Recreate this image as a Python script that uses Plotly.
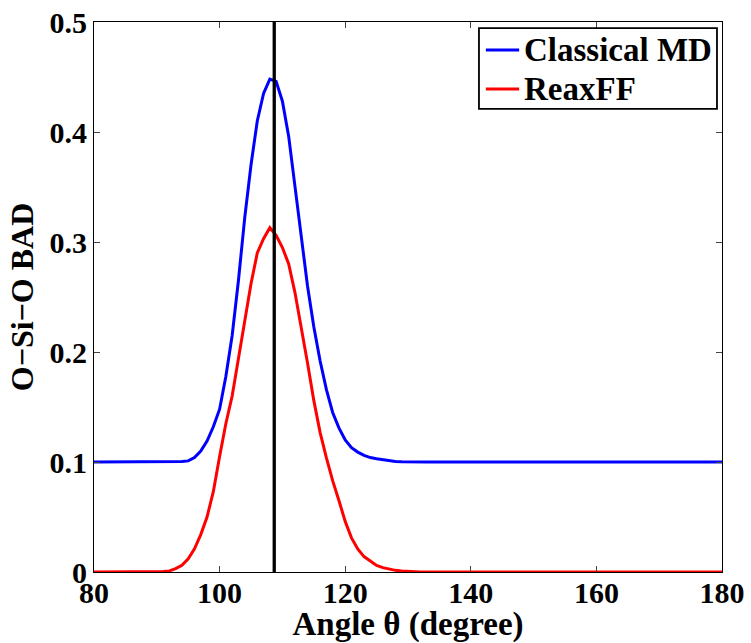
import plotly.graph_objects as go

angle = list(range(80, 181))

classical_peak = {
    93: 0.1002, 94: 0.1005, 95: 0.101, 96: 0.104, 97: 0.110, 98: 0.119, 99: 0.132,
    100: 0.148, 101: 0.178, 102: 0.215, 103: 0.265, 104: 0.322, 105: 0.370,
    106: 0.410, 107: 0.435, 108: 0.448, 109: 0.446, 110: 0.428, 111: 0.396,
    112: 0.352, 113: 0.304, 114: 0.260, 115: 0.223, 116: 0.192, 117: 0.166,
    118: 0.145, 119: 0.131, 120: 0.120, 121: 0.113, 122: 0.109, 123: 0.106,
    124: 0.104, 125: 0.103, 126: 0.102, 127: 0.101, 128: 0.1005, 129: 0.1002,
}
reaxff_peak = {
    90: 0.0002, 91: 0.0005, 92: 0.001, 93: 0.003, 94: 0.006, 95: 0.012, 96: 0.021,
    97: 0.034, 98: 0.050, 99: 0.073, 100: 0.105, 101: 0.135, 102: 0.160,
    103: 0.195, 104: 0.228, 105: 0.262, 106: 0.290, 107: 0.303, 108: 0.313,
    109: 0.306, 110: 0.295, 111: 0.280, 112: 0.254, 113: 0.223, 114: 0.190,
    115: 0.156, 116: 0.127, 117: 0.104, 118: 0.083, 119: 0.065, 120: 0.046,
    121: 0.031, 122: 0.021, 123: 0.014, 124: 0.010, 125: 0.006, 126: 0.004,
    127: 0.0025, 128: 0.0015, 129: 0.001, 130: 0.0005, 131: 0.0002,
}
classical_md = [classical_peak.get(a, 0.1) for a in angle]
reaxff = [reaxff_peak.get(a, 0.0) for a in angle]

ref_angle = 108.7
ref_span = [-0.004, 0.504]

x_ticks = [80, 100, 120, 140, 160, 180]
y_ticks = [0, 0.1, 0.2, 0.3, 0.4, 0.5]
y_tick_text = ["0", "0.1", "0.2", "0.3", "0.4", "0.5"]

series_names = ["Classical MD", "ReaxFF"]
series_colors = ["#0000FF", "#FF0000"]

font_family = "Liberation Serif, Times New Roman, Times, serif"

fig = go.Figure()
for name, ys, color in zip(series_names, [classical_md, reaxff], series_colors):
    fig.add_trace(go.Scatter(x=angle, y=ys, mode="lines", name=name,
                             line=dict(color=color, width=3), cliponaxis=False,
                             showlegend=False))
fig.add_trace(go.Scatter(x=[ref_angle, ref_angle], y=ref_span, mode="lines",
                         line=dict(color="black", width=3.3), showlegend=False,
                         cliponaxis=False))

# legend drawn as box + sample lines + text (paper coordinates)
legend_box = dict(x0=0.613, x1=0.992, y0=0.842, y1=0.989)
legend_rows_y = [0.949, 0.878]
shapes = [dict(type="rect", xref="paper", yref="paper", **legend_box,
               line=dict(color="black", width=1.8), fillcolor="white", layer="above")]
annotations = []
for name, color, yy in zip(series_names, series_colors, legend_rows_y):
    shapes.append(dict(type="line", xref="paper", yref="paper",
                       x0=0.624, x1=0.677, y0=yy, y1=yy,
                       line=dict(color=color, width=3), layer="above"))
    annotations.append(dict(text=name, xref="paper", yref="paper", x=0.682, y=yy,
                            xanchor="left", yanchor="middle", showarrow=False,
                            font=dict(family=font_family, size=33, color="black",
                                      weight="bold")))

axis_common = dict(
    showgrid=False, zeroline=False, showline=True, linecolor="black", linewidth=1,
    mirror="ticks", ticks="inside", ticklen=6, tickcolor="#444", tickwidth=1,
    automargin=False,
    tickfont=dict(family=font_family, size=30, color="black", weight="bold"),
)

fig.update_layout(
    width=751, height=643,
    margin=dict(l=94, r=29, t=22, b=71),
    paper_bgcolor="white", plot_bgcolor="white",
    showlegend=False,
    shapes=shapes,
    annotations=annotations,
    xaxis=dict(
        range=[80, 180], tickvals=x_ticks, ticklabelstandoff=-6,
        title=dict(text="Angle θ (degree)", standoff=6,
                   font=dict(family=font_family, size=33, color="black", weight="bold")),
        **axis_common,
    ),
    yaxis=dict(
        range=[0, 0.5], tickvals=y_ticks, ticktext=y_tick_text,
        title=dict(text="O−Si−O BAD", standoff=6,
                   font=dict(family=font_family, size=32, color="black", weight="bold")),
        **axis_common,
    ),
)

fig.write_html("out.html")
